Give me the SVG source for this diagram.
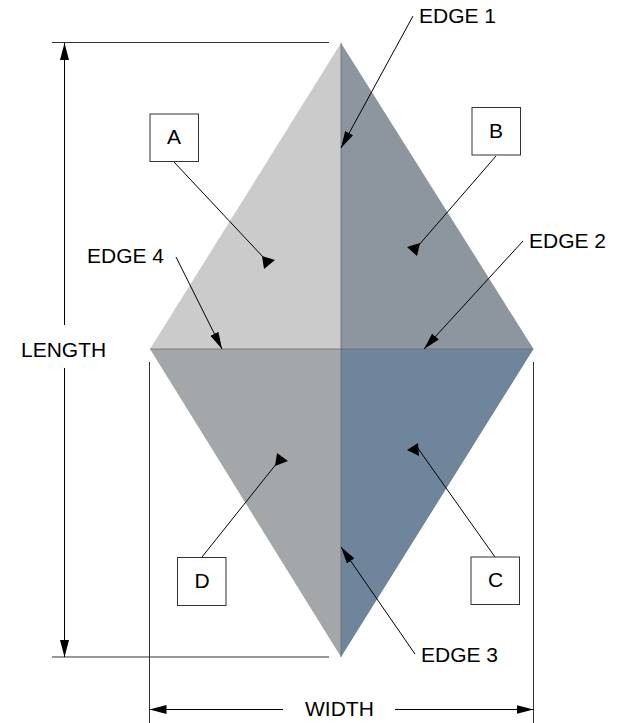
<svg xmlns="http://www.w3.org/2000/svg" width="627" height="723" viewBox="0 0 627 723">
<defs>
<marker id="arrow" markerUnits="userSpaceOnUse" markerWidth="18" markerHeight="10" refX="17" refY="5" orient="auto-start-reverse"><path d="M17 5L0 0.5V9.5Z" fill="#000"/></marker>
</defs>
<style>
.l{stroke:#000;stroke-width:1;fill:none}
.e{stroke:#333;stroke-width:1;fill:none}
.a{marker-start:url(#arrow)}
.h{fill:#000}
.t{font-family:"Liberation Sans",Arial,sans-serif;font-size:21px;fill:#000}
.m{text-anchor:middle}
.b{fill:#fff;stroke:#333;stroke-width:1}
</style>
<rect width="627" height="723" fill="#fff"/>
<g id="facets">
<path id="facet-a" d="M341 43V349H150Z" fill="#cbcbcb"/>
<path id="facet-b" d="M341 43V349H533.500Z" fill="#8d959f"/>
<path id="facet-c" d="M341 657V349H533.500Z" fill="#6f859b"/>
<path id="facet-d" d="M341 657V349H150Z" fill="#a4a7aa"/>
<path d="M150 349H533.500M341 43V657" stroke="#666" stroke-width=".7" fill="none"/>
</g>
<g id="connectors">
<path class="e" d="M52 42.500H329M52 657H329M149.500 362V723M533.500 362V723"/>
<path class="l a" d="M64.500 43V325"/>
<path class="l a" d="M64.500 657V368"/>
<path class="l a" d="M149.500 709.500H283"/>
<path class="l a" d="M533.500 709.500H395"/>
<path class="l a" d="M341 148L413 16"/>
<path class="l a" d="M424 349L523 241"/>
<path class="l a" d="M341 547L415 654"/>
<path class="l a" d="M222 349L176 257"/>
<path class="l" d="M174 162L264 258"/>
<path class="l" d="M496 156L418 246"/>
<path class="l" d="M495 557L417 447"/>
<path class="l" d="M202 557L277 463"/>
<path class="h" d="M262 256L275 260L264 269Z"/>
<path class="h" d="M420 243L407 247L417 256Z"/>
<path class="h" d="M418 443L407 450L419 456Z"/>
<path class="h" d="M277 453L288 461L275 466Z"/>
</g>
<g id="node-a"><rect class="b" x="150" y="114" width="48.500" height="47.500"/><text class="t m" x="174" y="144">A</text></g>
<g id="node-b"><rect class="b" x="472" y="107.500" width="48.500" height="47.500"/><text class="t m" x="496" y="138">B</text></g>
<g id="node-c"><rect class="b" x="471" y="557" width="48.500" height="47.500"/><text class="t m" x="495.500" y="587">C</text></g>
<g id="node-d"><rect class="b" x="177.500" y="557.500" width="48.500" height="48"/><text class="t m" x="202" y="588">D</text></g>
<g id="labels">
<text class="t" x="419" y="23">EDGE 1</text>
<text class="t" x="529" y="248">EDGE 2</text>
<text class="t" x="421" y="662">EDGE 3</text>
<text class="t" x="87" y="263">EDGE 4</text>
<text class="t" x="21" y="357">LENGTH</text>
<text class="t" x="305" y="716">WIDTH</text>
</g>
</svg>
